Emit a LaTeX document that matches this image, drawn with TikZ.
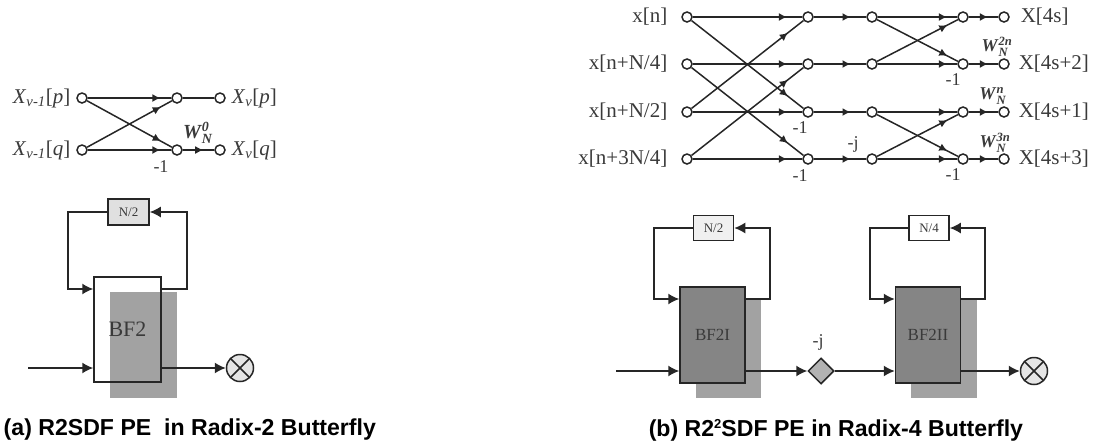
\documentclass[tikz,border=0pt]{standalone}
\usepackage{amsmath}
\usepackage{fontspec}
\setmainfont{Liberation Serif}
\newfontfamily\capfont{Liberation Sans}
\usetikzlibrary{arrows.meta, shapes.geometric, decorations.markings}
\definecolor{shadegray}{HTML}{A2A2A2}
\definecolor{boxgray}{HTML}{858585}
\definecolor{inkgray}{HTML}{3A3A3A}
\newcommand{\twid}[1]{\textbf{\textit{W}}$^{\textbf{\textit{#1}}}_{\textbf{\textit{N}}}$}
\begin{document}
\begin{tikzpicture}[
		x=1pt, y=-1pt,
		line width=1.5pt, color=black!85,
		font=\fontsize{21}{23}\selectfont,
		dot/.style={draw, circle, fill=white, minimum size=10pt, inner sep=0pt, line width=1.5pt},
		lbl/.style={inner sep=0pt, text=inkgray},
		smalllbl/.style={inner sep=0pt, text=inkgray, font=\fontsize{18}{20}\selectfont},
		tipat/.style={postaction={decorate}, decoration={markings, mark=at position #1 with {\arrow{Latex[length=8pt,width=8pt]}}}},
		flow/.style={-{Latex[length=11pt,width=11pt]}},
		shade/.style={fill=shadegray, draw=none, inner sep=0pt},
		bfopen/.style={draw, inner sep=0pt, minimum width=67pt, minimum height=105pt, text=inkgray, font=\fontsize{22}{24}\selectfont},
		bffull/.style={draw, fill=boxgray, inner sep=0pt, minimum width=65pt, minimum height=96pt, text=inkgray, font=\fontsize{17}{20}\selectfont},
		delay/.style={draw, fill=black!6, inner sep=0pt, minimum width=40pt, minimum height=25pt, text=inkgray, font=\fontsize{13}{15}\selectfont},
		mult/.style={draw, circle, fill=black!10, minimum size=27pt, inner sep=0pt,
			path picture={\draw (path picture bounding box.south west) -- (path picture bounding box.north east)
				(path picture bounding box.north west) -- (path picture bounding box.south east);}},
		caption/.style={inner sep=0pt, anchor=west, text=black, font=\capfont\bfseries\fontsize{23.1}{25}\selectfont}
		]
		\useasboundingbox (0,0) rectangle (1093,445);
		
		% Radix-2 butterfly
		\node[dot] (a_in1) at (82,98) {};
		\node[dot] (a_in2) at (82,150) {};
		\node[dot] (a_mid1) at (177,98) {};
		\node[dot] (a_mid2) at (177,150) {};
		\node[dot] (a_out1) at (220,98) {};
		\node[dot] (a_out2) at (220,150) {};
		
		\draw[tipat=0.87] (a_in1) -- (a_mid1);
		\draw[tipat=0.87] (a_in1) -- (a_mid2);
		\draw[tipat=0.87] (a_in2) -- (a_mid1);
		\draw[tipat=0.87] (a_in2) -- (a_mid2);
		\draw (a_mid1) -- (a_out1);
		\draw[tipat=0.65] (a_mid2) -- (a_out2);
		
		\node[lbl, anchor=east] at (71,98) {\textit{X}$_{\textit{v-1}}$[\textit{p}]};
		\node[lbl, anchor=east] at (71,150) {\textit{X}$_{\textit{v-1}}$[\textit{q}]};
		\node[lbl, anchor=west] at (231,98) {\textit{X}$_{\textit{v}}$[\textit{p}]};
		\node[lbl, anchor=west] at (231,150) {\textit{X}$_{\textit{v}}$[\textit{q}]};
		\node[smalllbl] at (161,167) {-1};
		\node[lbl, font=\fontsize{20}{22}\selectfont] at (198,133) {\twid{0}};
		
		% R2SDF element
		\node[shade, minimum width=67pt, minimum height=106pt] (shade_a) at (143.5,345) {};
		\node[bfopen] (bf_a) at (127.5,329.5) {BF2};
		\node[delay, fill=black!12, minimum width=41pt, minimum height=26pt] (delay_a) at (128.5,212) {N/2};
		\node[mult] (mult_a) at (240,368) {};
		\coordinate (start_a) at (28,368);
		\coordinate (back_a1) at (68,212);
		\coordinate (back_a2) at (68,289);
		\coordinate (back_a3) at (187,289);
		\coordinate (back_a4) at (187,212);
		
		\draw[flow] (delay_a.west) -- (back_a1) -- (back_a2) -- (back_a2 -| bf_a.west);
		\draw[flow] (back_a3 -| bf_a.east) -- (back_a3) -- (back_a4) -- (delay_a.east);
		\draw[flow] (start_a) -- (start_a -| bf_a.west);
		\draw[flow] (mult_a -| bf_a.east) -- (mult_a);
		
		% Radix-4 butterfly
		\node[dot] (b_s01) at (687,17) {};
		\node[dot] (b_s02) at (687,64) {};
		\node[dot] (b_s03) at (687,112) {};
		\node[dot] (b_s04) at (687,159) {};
		\node[dot] (b_s11) at (808,17) {};
		\node[dot] (b_s12) at (808,64) {};
		\node[dot] (b_s13) at (808,112) {};
		\node[dot] (b_s14) at (808,159) {};
		\node[dot] (b_s21) at (872,17) {};
		\node[dot] (b_s22) at (872,64) {};
		\node[dot] (b_s23) at (872,112) {};
		\node[dot] (b_s24) at (872,159) {};
		\node[dot] (b_s31) at (963,17) {};
		\node[dot] (b_s32) at (963,64) {};
		\node[dot] (b_s33) at (963,112) {};
		\node[dot] (b_s34) at (963,159) {};
		\node[dot] (b_s41) at (1004,17) {};
		\node[dot] (b_s42) at (1004,64) {};
		\node[dot] (b_s43) at (1004,112) {};
		\node[dot] (b_s44) at (1004,159) {};
		
		% First stage
		\draw[tipat=0.86] (b_s01) -- (b_s11);
		\draw[tipat=0.86] (b_s01) -- (b_s13);
		\draw[tipat=0.86] (b_s02) -- (b_s12);
		\draw[tipat=0.86] (b_s02) -- (b_s14);
		\draw[tipat=0.86] (b_s03) -- (b_s13);
		\draw[tipat=0.86] (b_s03) -- (b_s11);
		\draw[tipat=0.86] (b_s04) -- (b_s14);
		\draw[tipat=0.86] (b_s04) -- (b_s12);
		
		% Twiddle stage
		\draw[tipat=0.7] (b_s11) -- (b_s21);
		\draw[tipat=0.7] (b_s12) -- (b_s22);
		\draw[tipat=0.7] (b_s13) -- (b_s23);
		\draw[tipat=0.7] (b_s14) -- (b_s24);
		
		% Second stage
		\draw[tipat=0.87] (b_s21) -- (b_s31);
		\draw[tipat=0.87] (b_s21) -- (b_s32);
		\draw[tipat=0.87] (b_s22) -- (b_s32);
		\draw[tipat=0.87] (b_s22) -- (b_s31);
		\draw[tipat=0.87] (b_s23) -- (b_s33);
		\draw[tipat=0.87] (b_s23) -- (b_s34);
		\draw[tipat=0.87] (b_s24) -- (b_s34);
		\draw[tipat=0.87] (b_s24) -- (b_s33);
		
		% Outputs
		\draw[tipat=0.65] (b_s31) -- (b_s41);
		\draw[tipat=0.65] (b_s32) -- (b_s42);
		\draw[tipat=0.65] (b_s33) -- (b_s43);
		\draw[tipat=0.65] (b_s34) -- (b_s44);
		
		\node[lbl, anchor=east] at (668,17) {x[n]};
		\node[lbl, anchor=east] at (668,64) {x[n+N/4]};
		\node[lbl, anchor=east] at (668,112) {x[n+N/2]};
		\node[lbl, anchor=east] at (668,159) {x[n+3N/4]};
		\node[lbl, anchor=west] at (1020,17) {X[4s]};
		\node[lbl, anchor=west] at (1018,64) {X[4s+2]};
		\node[lbl, anchor=west] at (1018,112) {X[4s+1]};
		\node[lbl, anchor=west] at (1018,159) {X[4s+3]};
		\node[smalllbl] at (800,128) {-1};
		\node[smalllbl] at (800,176) {-1};
		\node[smalllbl] at (853,144) {-j};
		\node[smalllbl] at (953,80) {-1};
		\node[smalllbl] at (953,175) {-1};
		\node[lbl, font=\fontsize{18}{20}\selectfont] at (997,47) {\twid{2n}};
		\node[lbl, font=\fontsize{18}{20}\selectfont] at (993,96) {\twid{n}};
		\node[lbl, font=\fontsize{18}{20}\selectfont] at (995,143) {\twid{3n}};
		
		% R2^2SDF element
		\node[shade, minimum width=65pt, minimum height=98pt] (shade_b1) at (728.5,349) {};
		\node[shade, minimum width=66pt, minimum height=98pt] (shade_b2) at (944,349) {};
		\node[bffull] (bf_b1) at (712.5,335) {BF2I};
		\node[bffull] (bf_b2) at (928,335) {BF2II};
		\node[delay] (delay_b1) at (713.5,228) {N/2};
		\node[delay, fill=white] (delay_b2) at (929,228) {N/4};
		\node[draw, diamond, fill=black!30, minimum width=26pt, minimum height=26pt, inner sep=0pt] (rot_b) at (821,371) {};
		\node[smalllbl] at (818,342) {-j};
		\node[mult] (mult_b) at (1034,371) {};
		\coordinate (start_b) at (616,371);
		\coordinate (back_b1) at (654,228);
		\coordinate (back_b2) at (654,299);
		\coordinate (back_b3) at (770,299);
		\coordinate (back_b4) at (770,228);
		\coordinate (back_b5) at (870,228);
		\coordinate (back_b6) at (870,299);
		\coordinate (back_b7) at (985,299);
		\coordinate (back_b8) at (985,228);
		
		\draw[flow] (delay_b1.west) -- (back_b1) -- (back_b2) -- (back_b2 -| bf_b1.west);
		\draw[flow] (back_b3 -| bf_b1.east) -- (back_b3) -- (back_b4) -- (delay_b1.east);
		\draw[flow] (delay_b2.west) -- (back_b5) -- (back_b6) -- (back_b6 -| bf_b2.west);
		\draw[flow] (back_b7 -| bf_b2.east) -- (back_b7) -- (back_b8) -- (delay_b2.east);
		\draw[flow] (start_b) -- (start_b -| bf_b1.west);
		\draw[flow] (rot_b -| bf_b1.east) -- (rot_b);
		\draw[flow] (rot_b) -- (rot_b -| bf_b2.west);
		\draw[flow] (mult_b -| bf_b2.east) -- (mult_b);
		
		% Captions
		\node[caption] (cap_a) at (3,430) {(a) R2SDF PE\ \ in Radix-2 Butterfly};
		\node[caption] (cap_b) at (648,430) {(b) R2\raisebox{8pt}{\fontsize{13}{13}\selectfont 2}SDF PE in Radix-4 Butterfly};
		
	\end{tikzpicture}
\end{document}
